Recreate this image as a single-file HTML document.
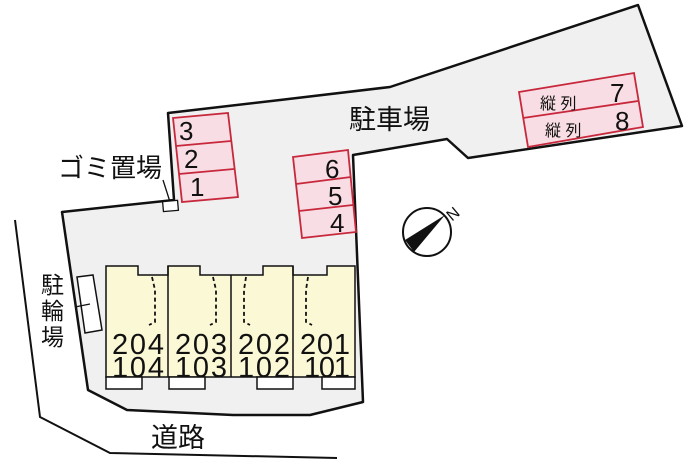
<!DOCTYPE html>
<html><head><meta charset="utf-8"><style>
html,body{margin:0;padding:0;background:#fff;}
svg{display:block;}
text{font-family:"Liberation Sans","Noto Sans CJK JP",sans-serif;fill:#111;}
</style></head><body>
<svg width="700" height="466" viewBox="0 0 700 466" xmlns="http://www.w3.org/2000/svg">
<polygon points="168,113 174,200 62,212 88,390 127,410 233,415 310,415 363,402 353,155 447,139 468,158 682,126 638,5 390,87 280,100" fill="#f0f0f0" stroke="#111" stroke-width="2.5" stroke-linejoin="round"/>
<polyline points="15,220 40,417 110,453 337,458" fill="none" stroke="#111" stroke-width="2"/>
<g stroke="#c8283c" stroke-width="1.8" fill="#f8dde4">
<polygon points="173,118 228,113 238,197 182,202"/>
<line x1="176" y1="146" x2="231" y2="141"/>
<line x1="179" y1="174" x2="234" y2="169"/>
<polygon points="293,157 348,150 356,232 302,238"/>
<line x1="296" y1="184" x2="351" y2="177"/>
<line x1="299" y1="211" x2="353" y2="205"/>
<polygon points="519,92 634,73 643,127 528,147"/>
<line x1="523" y1="118" x2="638" y2="101"/>
</g>
<g font-size="26">
<text x="179" y="140">3</text><text x="184" y="168">2</text><text x="190" y="196">1</text>
<text x="325" y="178">6</text><text x="328" y="205">5</text><text x="330" y="232">4</text>
<text x="610" y="102">7</text><text x="615" y="130">8</text>
</g>
<g font-size="16"><text x="540" y="109">縦 列</text><text x="545" y="136">縦 列</text></g>
<text x="349" y="129" font-size="27">駐車場</text>
<text x="58" y="177" font-size="26">ゴミ置場</text>
<line x1="163" y1="180" x2="171" y2="205" stroke="#111" stroke-width="1.3"/>
<rect x="163" y="201" width="15" height="10" fill="#fff" stroke="#111" stroke-width="1.3" transform="rotate(-5 170 206)"/>
<polygon points="77,277 93,275 102,330 85,333" fill="#fff" stroke="#111" stroke-width="1.5"/>
<line x1="75" y1="307" x2="90" y2="304" stroke="#111" stroke-width="1.3"/>
<g font-size="23"><text x="41" y="293">駐</text><text x="41" y="319">輪</text><text x="41" y="345">場</text></g>
<text x="151" y="447" font-size="27">道路</text>
<g stroke="#111" stroke-width="1.5">
<path d="M106,266 H138 V275 H168 V266 H200 V275 H263 V266 H293 V275 H327 V266 H355 V377 H106 Z" fill="#fbf8d6"/>
<line x1="168" y1="266" x2="168" y2="377"/><line x1="231" y1="275" x2="231" y2="377"/><line x1="293" y1="266" x2="293" y2="377"/>
<rect x="106" y="377" width="36" height="12" fill="#fff"/>
<rect x="169" y="377" width="36" height="12" fill="#fff"/>
<rect x="257" y="377" width="36" height="12" fill="#fff"/>
<rect x="322" y="377" width="33" height="12" fill="#fff"/>
</g>
<g stroke="#111" stroke-width="1.8" stroke-dasharray="4,3" fill="none">
<polyline points="152,277 155,290 155,322 149,325"/>
<polyline points="213,277 216,290 216,322 210,325"/>
<polyline points="246,277 244,290 244,322 250,325"/>
<polyline points="308,277 306,290 306,322 312,325"/>
</g>
<g font-size="29">
<text x="112" y="354" textLength="52">204</text><text x="112" y="377" textLength="52">104</text>
<text x="175" y="354" textLength="52">203</text><text x="175" y="377" textLength="52">103</text>
<text x="238" y="354" textLength="52">202</text><text x="238" y="377" textLength="52">102</text>
<text x="300" y="354" textLength="50">201</text><text x="304" y="377" textLength="46">101</text>
</g>
<circle cx="427" cy="232" r="24" fill="#fff" stroke="#111" stroke-width="2"/>
<polygon points="445,215 405,240 414,252" fill="#111"/>
<text x="447" y="220" font-size="16" transform="rotate(-40 452 214)">N</text>
</svg>
</body></html>
